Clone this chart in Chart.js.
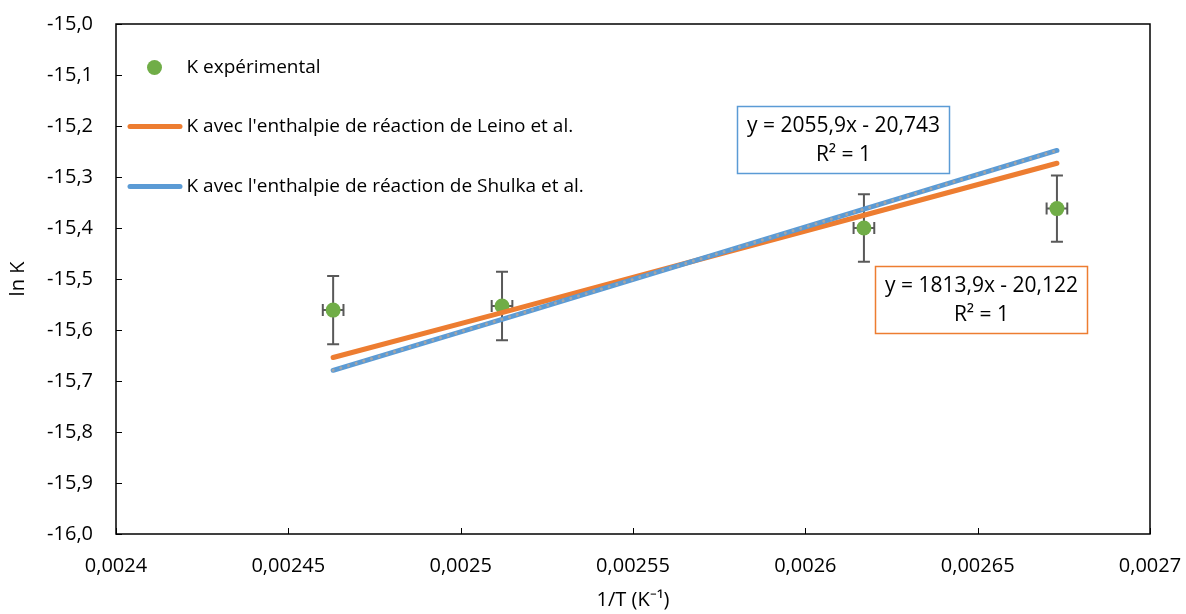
<!DOCTYPE html>
<html><head><meta charset="utf-8">
<script src="https://cdn.jsdelivr.net/npm/chart.js@4.4.0/dist/chart.umd.min.js"></script>
<style>html,body{margin:0;padding:0;background:#fff}#wrap{width:1186px;height:614px}</style>
</head><body><div id="wrap"><canvas id="c" width="1186" height="614"></canvas></div>
<script>
// ---- data ----
const invT = [0.002463, 0.002512, 0.002617, 0.002673];
const lnKexp = [-15.561, -15.553, -15.400, -15.362];
const errLnK = [0.067, 0.067, 0.066, 0.065];
const errInvT = [0.000003, 0.000003, 0.000003, 0.000003];
const lnKLeino = [-15.654, -15.566, -15.375, -15.273];
const lnKShulka = [-15.679, -15.579, -15.363, -15.248];
const xTicks = [0.0024, 0.00245, 0.0025, 0.00255, 0.0026, 0.00265, 0.0027];
const xTickLabels = ['0,0024', '0,00245', '0,0025', '0,00255', '0,0026', '0,00265', '0,0027'];
const yTicks = [-16.0, -15.9, -15.8, -15.7, -15.6, -15.5, -15.4, -15.3, -15.2, -15.1, -15.0];
const yTickLabels = ['-16,0', '-15,9', '-15,8', '-15,7', '-15,6', '-15,5', '-15,4', '-15,3', '-15,2', '-15,1', '-15,0'];
const seriesLabels = ['K expérimental', "K avec l'enthalpie de réaction de Leino et al.", "K avec l'enthalpie de réaction de Shulka et al."];
const trendLeino = ['y = 1813,9x - 20,122', 'R² = 1'];
const trendShulka = ['y = 2055,9x - 20,743', 'R² = 1'];
const xTitle = '1/T (K⁻¹)';
const yTitle = 'ln K';

const GREEN = '#70AD47', ORANGE = '#ED7D31', BLUE = '#5B9BD5', GREY = '#A5A5A5';
const FONT = "'Open Sans', sans-serif";
Chart.defaults.font.family = FONT;
Chart.defaults.color = '#000';

const toPts = (xs, ys) => xs.map((x, i) => ({x: x, y: ys[i]}));

const custom = {
  id: 'custom',
  beforeDatasetsDraw(chart) {
    const ctx = chart.ctx, xs = chart.scales.x, ys = chart.scales.y;
    ctx.save();
    ctx.strokeStyle = '#595959';
    ctx.lineWidth = 2;
    invT.forEach((x, i) => {
      const px = xs.getPixelForValue(x), py = ys.getPixelForValue(lnKexp[i]);
      const t = ys.getPixelForValue(lnKexp[i] + errLnK[i]);
      const b = ys.getPixelForValue(lnKexp[i] - errLnK[i]);
      const l = xs.getPixelForValue(x - errInvT[i]);
      const r = xs.getPixelForValue(x + errInvT[i]);
      ctx.beginPath();
      ctx.moveTo(px, t); ctx.lineTo(px, b);
      ctx.moveTo(px - 6, t); ctx.lineTo(px + 6, t);
      ctx.moveTo(px - 6, b); ctx.lineTo(px + 6, b);
      ctx.moveTo(l, py); ctx.lineTo(r, py);
      ctx.moveTo(l, py - 6); ctx.lineTo(l, py + 6);
      ctx.moveTo(r, py - 6); ctx.lineTo(r, py + 6);
      ctx.stroke();
    });
    ctx.restore();
  },
  afterDraw(chart) {
    const ctx = chart.ctx, a = chart.chartArea, xs = chart.scales.x, ys = chart.scales.y;
    ctx.save();
    // plot frame
    ctx.strokeStyle = '#000';
    ctx.lineWidth = 1.5;
    ctx.strokeRect(a.left, a.top, a.right - a.left, a.bottom - a.top);
    // inward ticks
    ctx.lineWidth = 1;
    ctx.beginPath();
    xTicks.forEach(v => { const p = Math.round(xs.getPixelForValue(v)) + 0.5; ctx.moveTo(p, a.bottom); ctx.lineTo(p, a.bottom - 6); });
    yTicks.forEach(v => { const p = Math.round(ys.getPixelForValue(v)) + 0.5; ctx.moveTo(a.left, p); ctx.lineTo(a.left + 6, p); });
    ctx.stroke();

    // legend
    ctx.font = '19px ' + FONT;
    ctx.textBaseline = 'middle';
    ctx.textAlign = 'left';
    const lx = a.left, ly = a.top;
    ctx.fillStyle = GREEN;
    ctx.beginPath(); ctx.arc(lx + 38.5, ly + 43.5, 7.5, 0, Math.PI * 2); ctx.fill();
    ctx.lineCap = 'round';
    ctx.lineWidth = 5;
    ctx.strokeStyle = ORANGE;
    ctx.beginPath(); ctx.moveTo(lx + 14, ly + 102.5); ctx.lineTo(lx + 64, ly + 102.5); ctx.stroke();
    ctx.strokeStyle = BLUE;
    ctx.beginPath(); ctx.moveTo(lx + 14, ly + 162.5); ctx.lineTo(lx + 64, ly + 162.5); ctx.stroke();
    ctx.fillStyle = '#000';
    ctx.fillText(seriesLabels[0], lx + 70.5, ly + 43.5);
    ctx.fillText(seriesLabels[1], lx + 70.5, ly + 102.5);
    ctx.fillText(seriesLabels[2], lx + 70.5, ly + 162.5);

    // trendline labels
    const drawBox = (cx, cy, lines, color) => {
      const w = 212, h = 67;
      const x0 = Math.round(xs.getPixelForValue(cx) - w / 2) + 0.5;
      const y0 = Math.round(ys.getPixelForValue(cy) - h / 2) + 0.5;
      ctx.fillStyle = '#fff';
      ctx.fillRect(x0, y0, w, h);
      ctx.strokeStyle = color;
      ctx.lineWidth = 1.5;
      ctx.lineCap = 'butt';
      ctx.strokeRect(x0, y0, w, h);
      ctx.fillStyle = '#000';
      ctx.font = '21px ' + FONT;
      ctx.textAlign = 'center';
      ctx.fillText(lines[0], x0 + w / 2, y0 + 20);
      ctx.fillText(lines[1], x0 + w / 2, y0 + 49);
    };
    drawBox(0.0026108, -15.226, trendShulka, BLUE);
    drawBox(0.0026509, -15.540, trendLeino, ORANGE);
    ctx.restore();
  }
};

new Chart(document.getElementById('c'), {
  type: 'scatter',
  data: {
    datasets: [
      {label: seriesLabels[0], data: toPts(invT, lnKexp), backgroundColor: GREEN, borderColor: GREEN,
       pointRadius: 7.5, pointBorderWidth: 0, showLine: false, order: 3},
      {label: seriesLabels[1], data: toPts(invT, lnKLeino), borderColor: ORANGE, backgroundColor: ORANGE,
       showLine: true, pointRadius: 0, borderWidth: 5, borderCapStyle: 'round', order: 2},
      {label: seriesLabels[2], data: toPts(invT, lnKShulka), borderColor: BLUE, backgroundColor: BLUE,
       showLine: true, pointRadius: 0, borderWidth: 5, borderCapStyle: 'round', order: 1},
      {label: 'trend', data: toPts(invT, lnKShulka), borderColor: GREY, backgroundColor: GREY,
       showLine: true, pointRadius: 0, borderWidth: 3, borderDash: [0.01, 8], borderCapStyle: 'round', order: 0}
    ]
  },
  options: {
    responsive: false,
    animation: false,
    devicePixelRatio: 1,
    layout: {padding: {top: 24, right: 36, left: 0, bottom: 0}},
    plugins: {legend: {display: false}, tooltip: {enabled: false}},
    scales: {
      x: {
        type: 'linear', min: 0.0024, max: 0.0027,
        afterBuildTicks: s => { s.ticks = xTicks.map(v => ({value: v})); },
        afterFit: s => { s.height = 80; s.paddingLeft = 0; s.paddingRight = 0; },
        grid: {display: false, drawTicks: false},
        border: {display: false},
        ticks: {callback: (v, i) => xTickLabels[i], font: {size: 20}, color: '#000', padding: 20, maxRotation: 0},
        title: {display: true, text: xTitle, font: {size: 20}, color: '#000', padding: {top: 0, bottom: 2}}
      },
      y: {
        type: 'linear', min: -16, max: -15,
        afterBuildTicks: s => { s.ticks = yTicks.map(v => ({value: v})); },
        afterFit: s => { s.width = 116; s.paddingTop = 0; s.paddingBottom = 0; },
        grid: {display: false, drawTicks: false},
        border: {display: false},
        ticks: {callback: (v, i) => yTickLabels[i], font: {size: 20}, color: '#000', padding: 23},
        title: {display: true, text: yTitle, font: {size: 20}, color: '#000', padding: {top: 6, bottom: 0}}
      }
    }
  },
  plugins: [custom]
});
</script>
</body></html>
